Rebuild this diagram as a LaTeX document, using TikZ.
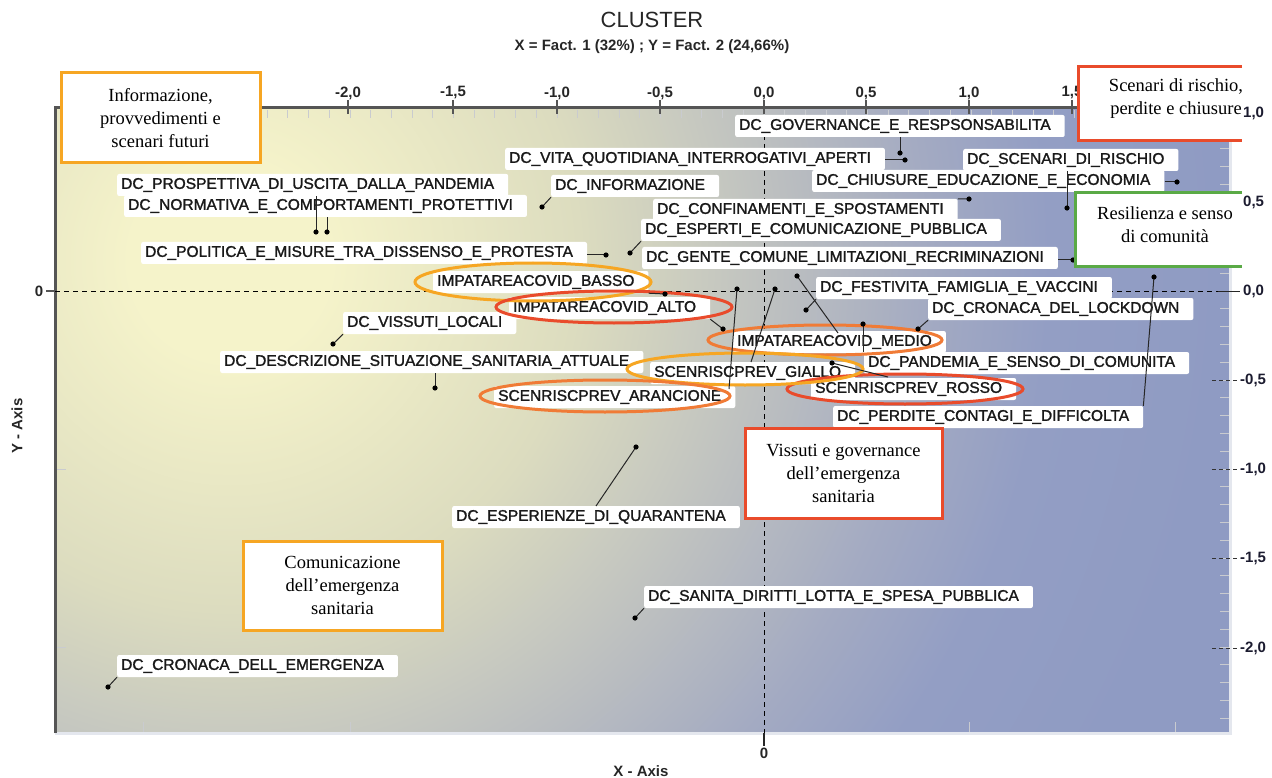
\documentclass[tikz,border=0pt]{standalone}
\usepackage{fontspec}
\setmainfont{Liberation Serif}
\newfontfamily\dlf{Liberation Sans}
\newfontfamily\dlfb{Liberation Sans}[FakeBold=1.5]
\usetikzlibrary{calc}
\definecolor{bgA}{HTML}{F5F3CA}
\definecolor{bgB}{HTML}{DCDCBF}
\definecolor{bgC}{HTML}{BCBFC0}
\definecolor{bgD}{HTML}{A3AAC2}
\definecolor{bgE}{HTML}{939EC4}
\definecolor{bgF}{HTML}{8F9BC3}
\definecolor{cYel}{HTML}{F6A623}
\definecolor{cRed}{HTML}{E94B2B}
\definecolor{cOra}{HTML}{F07B36}
\definecolor{cGrn}{HTML}{5AAA46}
\definecolor{axDark}{HTML}{555555}
\definecolor{axLight}{HTML}{E4E7EE}
\definecolor{tickLight}{HTML}{C9CBCF}
\definecolor{rlab}{HTML}{1B1B2F}
\pgfdeclareradialshading{bgshade}{\pgfpoint{0bp}{0bp}}{color(0bp)=(bgA); color(2.5bp)=(bgA); color(8.75bp)=(bgB); color(13.75bp)=(bgC); color(17.5bp)=(bgD); color(20.5bp)=(bgE); color(25bp)=(bgF); color(50bp)=(bgF)}
\newcommand\labtxt[1]{#1\hspace*{10pt}}

\begin{document}
\begin{tikzpicture}[x=1pt,y=-1pt,
 dl/.style={fill=white, rounded corners=2pt, inner xsep=4pt, inner ysep=0pt, minimum height=22pt, anchor=west, font=\dlfb\fontsize{15.5}{18}\selectfont, text=black!90},
 ld/.style={line width=1pt, black!85},
 ell/.style={line width=3pt},
 ann/.style={fill=white, line width=3pt, align=center, font=\fontsize{18.5}{23}\selectfont, inner sep=0pt},
 axl/.style={font=\dlf\bfseries\fontsize{15}{18}\selectfont, text=black!85, inner sep=0pt},
 rtick/.style={line width=1pt, black!80, dash pattern=on 4pt off 3pt},
 dot/.style={fill=black},
]
\useasboundingbox (0,0) rectangle (1272,778);

% background
\begin{scope}
\clip (55,108) rectangle (1230,733);
\fill[bgF] (55,108) rectangle (1230,733);
\shade[shading=bgshade] (230,260) circle (1000);
\end{scope}

% minor ticks
\foreach \k in {-34,...,22} \draw[tickLight, line width=1pt] ({764+20.7*\k},110) -- ++(0,8);
\foreach \k in {-24,...,10} \draw[tickLight, line width=1pt] (1220,{291-17.8*\k}) -- ++(10,0);
\foreach \xx in {143,350,969,1175} \draw[tickLight, line width=1pt] (\xx,722) -- (\xx,732);
\foreach \yy in {469,647} \draw[tickLight, line width=1pt] (56,\yy) -- (66,\yy);

% frame
\draw[axLight, line width=3pt] (55,733) -- (1230,733) -- (1230,108);
\draw[axDark, line width=3pt] (55,733) -- (55,108) -- (1230,108);

% zero lines
\draw[black, line width=1pt, dash pattern=on 5pt off 4pt] (55,291) -- (1228,291);
\draw[black, line width=1pt, dash pattern=on 5pt off 4pt] (764,108) -- (764,733);
\draw[axDark, line width=1.5pt] (46,291) -- (55,291);
\draw[black!85, line width=1.5pt] (764,733) -- (764,746);

% major top ticks
\foreach \xx in {348,453,557,660,764,866,969,1072} \draw[axDark, line width=1.5pt] (\xx,100) -- (\xx,114);

% right ticks
\foreach \yy in {113,202,380,469,558,648} \draw[rtick] (1212,\yy) -- (1240,\yy);
\draw[black!85, line width=1pt] (1218,291) -- (1240,291);

% top axis labels
\node[axl] (tA) at (348,93) {-2,0};
\node[axl] (tB) at (453,93) {-1,5};
\node[axl] (tC) at (557,93) {-1,0};
\node[axl] (tD) at (660,93) {-0,5};
\node[axl] (tE) at (764,93) {0,0};
\node[axl] (tF) at (866,93) {0,5};
\node[axl] (tG) at (969,93) {1,0};
\node[axl] (tH) at (1072,93) {1,5};

% points
\coordinate (pGov) at (900,153);
\coordinate (pVita) at (905,160);
\coordinate (pScen) at (1067,208);
\coordinate (pChi) at (1177,182);
\coordinate (pConf) at (969,199);
\coordinate (pEsp) at (630,253);
\coordinate (pPol) at (606,255);
\coordinate (pPro) at (316,232);
\coordinate (pNor) at (327,232);
\coordinate (pInf) at (542,207);
\coordinate (pGen) at (1073,260);
\coordinate (pFes) at (806,310);
\coordinate (pLock) at (918,329);
\coordinate (pPan) at (863,324);
\coordinate (pPerd) at (1154,277);
\coordinate (pRos) at (832,363);
\coordinate (pGia) at (775,289);
\coordinate (pMed) at (797,276);
\coordinate (pAlto) at (723,329);
\coordinate (pBas) at (665,294);
\coordinate (pAra) at (737,289);
\coordinate (pVis) at (333,344);
\coordinate (pDes) at (435,388);
\coordinate (pQua) at (636,447);
\coordinate (pSan) at (635,618);
\coordinate (pCre) at (108,687);
\coordinate (eRos) at (888,377);
\coordinate (eGia) at (751,362);
\coordinate (eMed) at (838,333);
\coordinate (eAra) at (729,389);
\coordinate (eQua) at (596,506);

% labels
\node[dl] (gov) at (735,126) {\labtxt{DC\_GOVERNANCE\_E\_RESPSONSABILITA}};
\node[dl] (vita) at (505,159) {\labtxt{DC\_VITA\_QUOTIDIANA\_INTERROGATIVI\_APERTI}};
\node[dl] (scen) at (963,160) {\labtxt{DC\_SCENARI\_DI\_RISCHIO}};
\node[dl] (chi) at (812,181) {\labtxt{DC\_CHIUSURE\_EDUCAZIONE\_E\_ECONOMIA}};
\node[dl] (conf) at (653,210) {\labtxt{DC\_CONFINAMENTI\_E\_SPOSTAMENTI}};
\node[dl] (espc) at (641,230) {\labtxt{DC\_ESPERTI\_E\_COMUNICAZIONE\_PUBBLICA}};
\node[dl] (gen) at (642,258) {\labtxt{DC\_GENTE\_COMUNE\_LIMITAZIONI\_RECRIMINAZIONI}};
\node[dl] (inf) at (551,186) {\labtxt{DC\_INFORMAZIONE}};
\node[dl] (pro) at (117,185) {\labtxt{DC\_PROSPETTIVA\_DI\_USCITA\_DALLA\_PANDEMIA}};
\node[dl] (nor) at (124,206) {\labtxt{DC\_NORMATIVA\_E\_COMPORTAMENTI\_PROTETTIVI}};
\node[dl] (pol) at (141,253) {\labtxt{DC\_POLITICA\_E\_MISURE\_TRA\_DISSENSO\_E\_PROTESTA}};
\node[dl] (bas) at (433,282) {\labtxt{IMPATAREACOVID\_BASSO}};
\node[dl] (fes) at (816,288) {\labtxt{DC\_FESTIVITA\_FAMIGLIA\_E\_VACCINI}};
\node[dl] (alto) at (509,308) {\labtxt{IMPATAREACOVID\_ALTO}};
\node[dl] (lock) at (928,309) {\labtxt{DC\_CRONACA\_DEL\_LOCKDOWN}};
\node[dl] (vis) at (343,323) {\labtxt{DC\_VISSUTI\_LOCALI}};
\node[dl] (med) at (733,342) {\labtxt{IMPATAREACOVID\_MEDIO}};
\node[dl] (des) at (220,362) {\labtxt{DC\_DESCRIZIONE\_SITUAZIONE\_SANITARIA\_ATTUALE}};
\node[dl] (pan) at (864,363) {\labtxt{DC\_PANDEMIA\_E\_SENSO\_DI\_COMUNITA}};
\node[dl] (gia) at (650,373) {\labtxt{SCENRISCPREV\_GIALLO}};
\node[dl] (ros) at (811,389) {\labtxt{SCENRISCPREV\_ROSSO}};
\node[dl] (ara) at (494,397) {\labtxt{SCENRISCPREV\_ARANCIONE}};
\node[dl] (perd) at (833,417) {\labtxt{DC\_PERDITE\_CONTAGI\_E\_DIFFICOLTA}};
\node[dl] (qua) at (452,517) {\labtxt{DC\_ESPERIENZE\_DI\_QUARANTENA}};
\node[dl] (san) at (644,597) {\labtxt{DC\_SANITA\_DIRITTI\_LOTTA\_E\_SPESA\_PUBBLICA}};
\node[dl] (cre) at (117,666) {\labtxt{DC\_CRONACA\_DELL\_EMERGENZA}};

% ellipses
\draw[ell, cYel] (533,282) ellipse (118 and 19);
\draw[ell, cRed] (614,307) ellipse (118 and 16);
\draw[ell, cOra] (825,340) ellipse (117 and 15);
\draw[ell, cRed] (905,389) ellipse (118 and 15);
\draw[ell, cYel] (745,369) ellipse (118 and 16);
\draw[ell, cOra] (605,396) ellipse (125 and 16);

% leaders
\draw[ld] (gov.south -| pGov) -- (pGov);
\draw[ld] (vita.east |- pVita) -- (pVita);
\draw[ld] (scen.south -| pScen) -- (pScen);
\draw[ld] (chi.east |- pChi) -- (pChi);
\draw[ld] (conf.north east) -- (pConf);
\draw[ld] (espc.south west) -- (pEsp);
\draw[ld] (pol.east |- pPol) -- (pPol);
\draw[ld] (pro.south -| pPro) -- (pPro);
\draw[ld] (nor.south -| pNor) -- (pNor);
\draw[ld] (inf.south west) -- (pInf);
\draw[ld] (gen.east |- pGen) -- (pGen);
\draw[ld] (fes.south west) -- (pFes);
\draw[ld] (lock.south west) -- (pLock);
\draw[ld] (pan.north -| pPan) -- (pPan);
\draw[ld] (perd.north east) -- (pPerd);
\draw[ld] (eRos) -- (pRos);
\draw[ld] (eGia) -- (pGia);
\draw[ld] (eMed) -- (pMed);
\draw[ld] (alto.south east) -- (pAlto);
\draw[ld] (bas.south east) -- (pBas);
\draw[ld] (eAra) -- (pAra);
\draw[ld] (vis.south west) -- (pVis);
\draw[ld] (des.south -| pDes) -- (pDes);
\draw[ld] (eQua) -- (pQua);
\draw[ld] (san.south west) -- (pSan);
\draw[ld] (cre.south west) -- (pCre);
\foreach \p in {pGov,pVita,pScen,pChi,pConf,pEsp,pPol,pPro,pNor,pInf,pGen,pFes,pLock,pPan,pPerd,pRos,pGia,pMed,pAlto,pBas,pAra,pVis,pDes,pQua,pSan,pCre}
  \fill[dot] (\p) circle (2.6);

% annotation boxes
\node[ann, draw=cYel, minimum width=199pt, minimum height=90pt] (bInfo) at (160.5,118) {Informazione,\\provvedimenti e\\scenari futuri};
\fill[white] (1078,67) rectangle (1242,141);
\draw[cRed, line width=3pt] (1242,67) -- (1078,67) -- (1078,141) -- (1242,141);
\node[ann, fill=none] (bScen) at (1176,99) {Scenari di rischio,\\perdite e chiusure};
\fill[white] (1075,193) rectangle (1242,267);
\draw[cGrn, line width=3pt] (1242,193) -- (1075,193) -- (1075,267) -- (1242,267);
\node[ann, fill=none] (bRes) at (1165,224.5) {Resilienza e senso\\di comunità};
\node[ann, draw=cRed, minimum width=197pt, minimum height=90pt] (bVis) at (843.5,473) {Vissuti e governance\\dell’emergenza\\sanitaria};
\node[ann, draw=cYel, minimum width=199pt, minimum height=89pt] (bCom) at (342.5,585.5) {Comunicazione\\dell’emergenza\\sanitaria};

% right axis labels
\node[axl, anchor=west, text=rlab] (rA) at (1243,113) {1,0};
\node[axl, anchor=west, text=rlab] (rB) at (1243,202) {0,5};
\node[axl, anchor=west, text=rlab] (rC) at (1243,291) {0,0};
\node[axl, anchor=west, text=rlab] (rD) at (1240,380) {-0,5};
\node[axl, anchor=west, text=rlab] (rE) at (1240,469) {-1,0};
\node[axl, anchor=west, text=rlab] (rF) at (1240,558) {-1,5};
\node[axl, anchor=west, text=rlab] (rG) at (1240,648) {-2,0};

% titles
\node[font=\dlf\fontsize{22}{26}\selectfont, text=black!85, inner sep=0pt] (title) at (652,20) {CLUSTER};
\node[axl] (sub) at (652,47) {X = Fact. 1 (32\%) ; Y = Fact. 2 (24,66\%)};
\node[axl, rotate=90] (yax) at (17,426) {Y - Axis};
\node[axl] (xax) at (641,771) {X - Axis};
\node[axl] (l0) at (39,291) {0};
\node[axl] (b0) at (764,753) {0};
\end{tikzpicture}
\end{document}
